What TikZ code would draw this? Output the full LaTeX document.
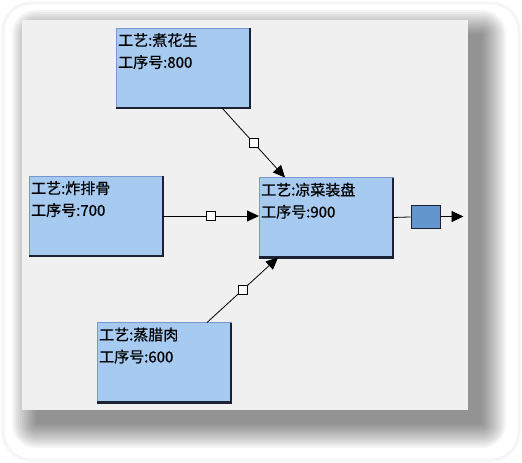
\documentclass[tikz,border=0pt]{standalone}
\usepackage{fontspec}
\newfontfamily\cjk{Noto Sans CJK SC}[FakeBold=0.8]
\usetikzlibrary{positioning,arrows.meta}
\definecolor{panelgray}{RGB}{240,240,240}
\definecolor{boxblue}{RGB}{166,202,240}
\definecolor{boxline}{RGB}{120,150,210}
\definecolor{edgedark}{RGB}{28,34,52}
\definecolor{outblue}{RGB}{98,150,204}

\begin{document}
\begin{tikzpicture}[
    x=1pt, y=-1pt,
    procbox/.style={rectangle, minimum width=134pt, minimum height=80pt, inner sep=0pt, outer sep=0pt, draw=boxline, line width=0.6pt, fill=boxblue},
    info/.style={anchor=north west, inner sep=0pt, align=left, font=\cjk\fontsize{15}{22}\selectfont, text=black},
    edge/.style={draw=edgedark, line width=2.6pt},
    arrow/.style={-{Triangle[length=12pt,width=11pt]}, line width=0.8pt},
    tap/.style={rectangle, draw=black, fill=white, line width=0.8pt, minimum size=9pt, inner sep=0pt},
    outbox/.style={rectangle, draw=edgedark, line width=1pt, fill=outblue, minimum width=29pt, minimum height=23pt, inner sep=0pt}
]
% card, shadow and panel
\fill[white] (0,0) rectangle (522,463);
\useasboundingbox (0,0) rectangle (522,463);
\draw[black!4, line width=3pt, rounded corners=28pt] (3,3) rectangle (519,460);
\foreach \i in {0,2,...,24}
    \fill[black, opacity=0.04, rounded corners=\i pt] (36-\i,34-\i) rectangle (482+\i,424+\i);
\fill[panelgray] (22,20) rectangle (468,410);

% process boxes
\node[procbox, label={[info, xshift=2pt, yshift=-5pt]north west:{工艺:煮花生\\工序号:800}}] (b800) at (183,68) {};
\node[procbox, label={[info, xshift=2pt, yshift=-5pt]north west:{工艺:炸排骨\\工序号:700}}] (b700) at (96,216) {};
\node[procbox, label={[info, xshift=2pt, yshift=-5pt]north west:{工艺:凉菜装盘\\工序号:900}}] (b900) at (326,217.5) {};
\node[procbox, label={[info, xshift=2pt, yshift=-5pt]north west:{工艺:蒸腊肉\\工序号:600}}] (b600) at (164,362.5) {};
\node[outbox] (out) at (425.5,216.5) {};
\coordinate[right=23pt of out] (outend);

\foreach \n in {b800,b700,b900,b600}
    \draw[edge] (\n.north east) -- (\n.south east) -- (\n.south west);

% connectors
\draw[arrow] ([xshift=-28pt]b800.south east) -- node[tap]{} ([xshift=26pt]b900.north west);
\draw[arrow] (b700.east) -- node[tap]{} (b700.east -| b900.west);
\draw[arrow] ([xshift=-24pt]b600.north east) -- node[tap]{} ([xshift=19pt]b900.south west);
\draw[line width=0.8pt] (b900.east) -- (out);
\draw[arrow] (out) -- (outend);

\end{tikzpicture}
\end{document}
